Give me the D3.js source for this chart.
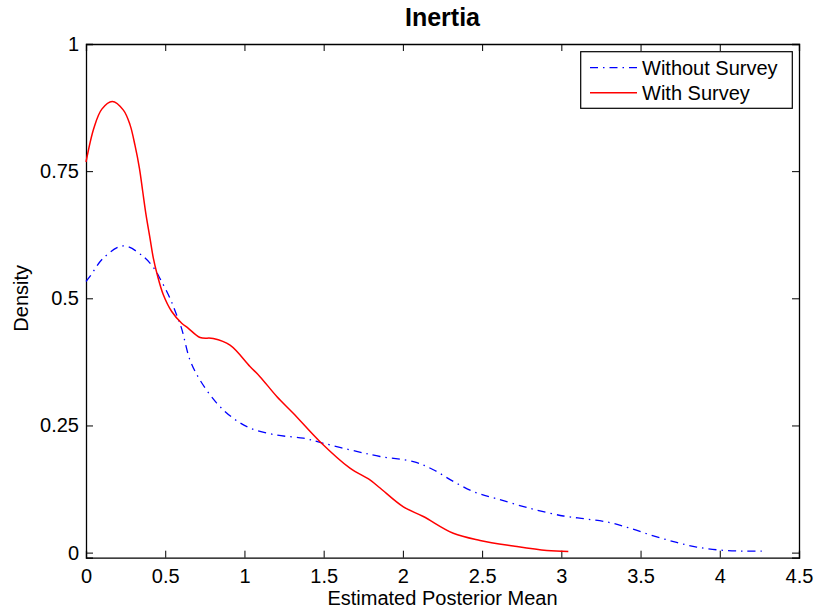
<!DOCTYPE html>
<html>
<head>
<meta charset="utf-8">
<script src="https://cdn.jsdelivr.net/npm/d3@7"></script>
<style>
  body { margin: 0; background: #fff; }
  svg { display: block; font-family: "Liberation Sans", Arial, sans-serif; }
</style>
</head>
<body>
<div id="chart"></div>
<script>
/* kernel density of estimated posterior mean, inertia */

// without survey (blue dash-dot)
const withoutX = [0, 0.025, 0.109, 0.236, 0.362, 0.436, 0.467, 0.53, 0.572, 0.604, 0.656, 0.72, 0.825, 0.93, 1.035, 1.204, 1.372, 1.498, 1.708, 1.856, 2.066, 2.192, 2.318, 2.445, 2.592, 2.802, 3.013, 3.16, 3.307, 3.433, 3.581, 3.728, 3.854, 4.002, 4.149, 4.265];
const withoutY = [0.533, 0.543, 0.579, 0.603, 0.582, 0.556, 0.539, 0.500, 0.467, 0.440, 0.379, 0.339, 0.294, 0.264, 0.245, 0.231, 0.225, 0.215, 0.199, 0.189, 0.179, 0.163, 0.140, 0.120, 0.106, 0.087, 0.072, 0.066, 0.059, 0.048, 0.033, 0.020, 0.011, 0.005, 0.003, 0.003];

// with survey (red solid)
const withX = [0, 0.05, 0.1, 0.166, 0.236, 0.278, 0.309, 0.337, 0.358, 0.379, 0.404, 0.425, 0.45, 0.488, 0.541, 0.604, 0.646, 0.72, 0.803, 0.909, 1.035, 1.098, 1.204, 1.308, 1.477, 1.666, 1.792, 1.856, 2.003, 2.129, 2.318, 2.487, 2.697, 2.908, 3.044];
const withY = [0.768, 0.835, 0.872, 0.887, 0.870, 0.841, 0.801, 0.756, 0.710, 0.664, 0.618, 0.579, 0.546, 0.507, 0.474, 0.451, 0.441, 0.423, 0.421, 0.408, 0.366, 0.346, 0.307, 0.274, 0.218, 0.166, 0.143, 0.127, 0.090, 0.071, 0.038, 0.024, 0.013, 0.004, 0.002];

const xTicks = [0, 0.5, 1, 1.5, 2, 2.5, 3, 3.5, 4, 4.5];
const yTicks = [0, 0.25, 0.5, 0.75, 1];
const seriesNames = ["Without Survey", "With Survey"];

const width = 818,
      height = 614,
      margin = ({ top: 44, right: 19, bottom: 56.3, left: 86 });

let svg = d3.select("#chart")
    .append("svg")
    .attr("width", width)
    .attr("height", height);

let x = d3.scaleLinear()
    .domain([0, 4.5])
    .range([margin.left, width - margin.right]);

let y = d3.scaleLinear()
    .domain([-0.01, 1])
    .range([height - margin.bottom, margin.top]);

const fmt = d => String(d);
const dashDot = "8,5,1.5,5";

/* axes, ticks point inward like matlab */
svg.append("g")
    .attr("transform", `translate(0, ${y(-0.01)})`)
    .call(d3.axisBottom(x).tickValues(xTicks).tickFormat(fmt).tickSize(-7).tickPadding(11))
    .call(g => g.selectAll("text").attr("font-size", 20).attr("fill", "#000"));

svg.append("g")
    .attr("transform", `translate(${x(0)}, 0)`)
    .call(d3.axisLeft(y).tickValues(yTicks).tickFormat(fmt).tickSize(-7).tickPadding(7))
    .call(g => g.selectAll("text").attr("font-size", 20).attr("fill", "#000"));

svg.append("g")
    .attr("transform", `translate(0, ${y(1)})`)
    .call(d3.axisTop(x).tickValues(xTicks).tickFormat("").tickSize(-7));

svg.append("g")
    .attr("transform", `translate(${x(4.5)}, 0)`)
    .call(d3.axisRight(y).tickValues(yTicks).tickFormat("").tickSize(-7));

svg.selectAll(".domain").attr("stroke", "#000").attr("stroke-width", 1.3);
svg.selectAll(".tick line").attr("stroke", "#000");

/* curves */
const line = (xs, ys) => d3.line()
    .x(i => x(xs[i]))
    .y(i => y(ys[i]))
    .curve(d3.curveCatmullRom)(d3.range(xs.length));

svg.append("path")
    .attr("d", line(withoutX, withoutY))
    .attr("fill", "none")
    .attr("stroke", "#0000ff")
    .attr("stroke-width", 1.3)
    .attr("stroke-dasharray", dashDot);

svg.append("path")
    .attr("d", line(withX, withY))
    .attr("fill", "none")
    .attr("stroke", "#ff0000")
    .attr("stroke-width", 1.5);

/* titles */
svg.append("text")
    .attr("x", (x(0) + x(4.5)) / 2)
    .attr("y", 26)
    .attr("text-anchor", "middle")
    .attr("font-size", 25)
    .attr("font-weight", "bold")
    .text("Inertia");

svg.append("text")
    .attr("x", (x(0) + x(4.5)) / 2)
    .attr("y", 605)
    .attr("text-anchor", "middle")
    .attr("font-size", 20)
    .text("Estimated Posterior Mean");

svg.append("text")
    .attr("transform", `translate(28, ${(y(0) + y(1)) / 2}) rotate(-90)`)
    .attr("text-anchor", "middle")
    .attr("font-size", 20)
    .text("Density");

/* legend */
let legend = svg.append("g");

legend.append("rect")
    .attr("x", 580.7)
    .attr("y", 51.7)
    .attr("width", 211.6)
    .attr("height", 56.6)
    .attr("fill", "#fff")
    .attr("stroke", "#000")
    .attr("stroke-width", 1.2);

const legendStyle = [
    { color: "#0000ff", dash: dashDot, w: 1.3 },
    { color: "#ff0000", dash: null, w: 1.5 }
];

seriesNames.forEach((name, i) => {
    const ly = 67.7 + i * 25;
    legend.append("line")
        .attr("x1", 590).attr("x2", 637)
        .attr("y1", ly).attr("y2", ly)
        .attr("stroke", legendStyle[i].color)
        .attr("stroke-width", legendStyle[i].w)
        .attr("stroke-dasharray", legendStyle[i].dash);
    legend.append("text")
        .attr("x", 642)
        .attr("y", ly)
        .attr("dy", "0.35em")
        .attr("font-size", 20)
        .text(name);
});
</script>
</body>
</html>
